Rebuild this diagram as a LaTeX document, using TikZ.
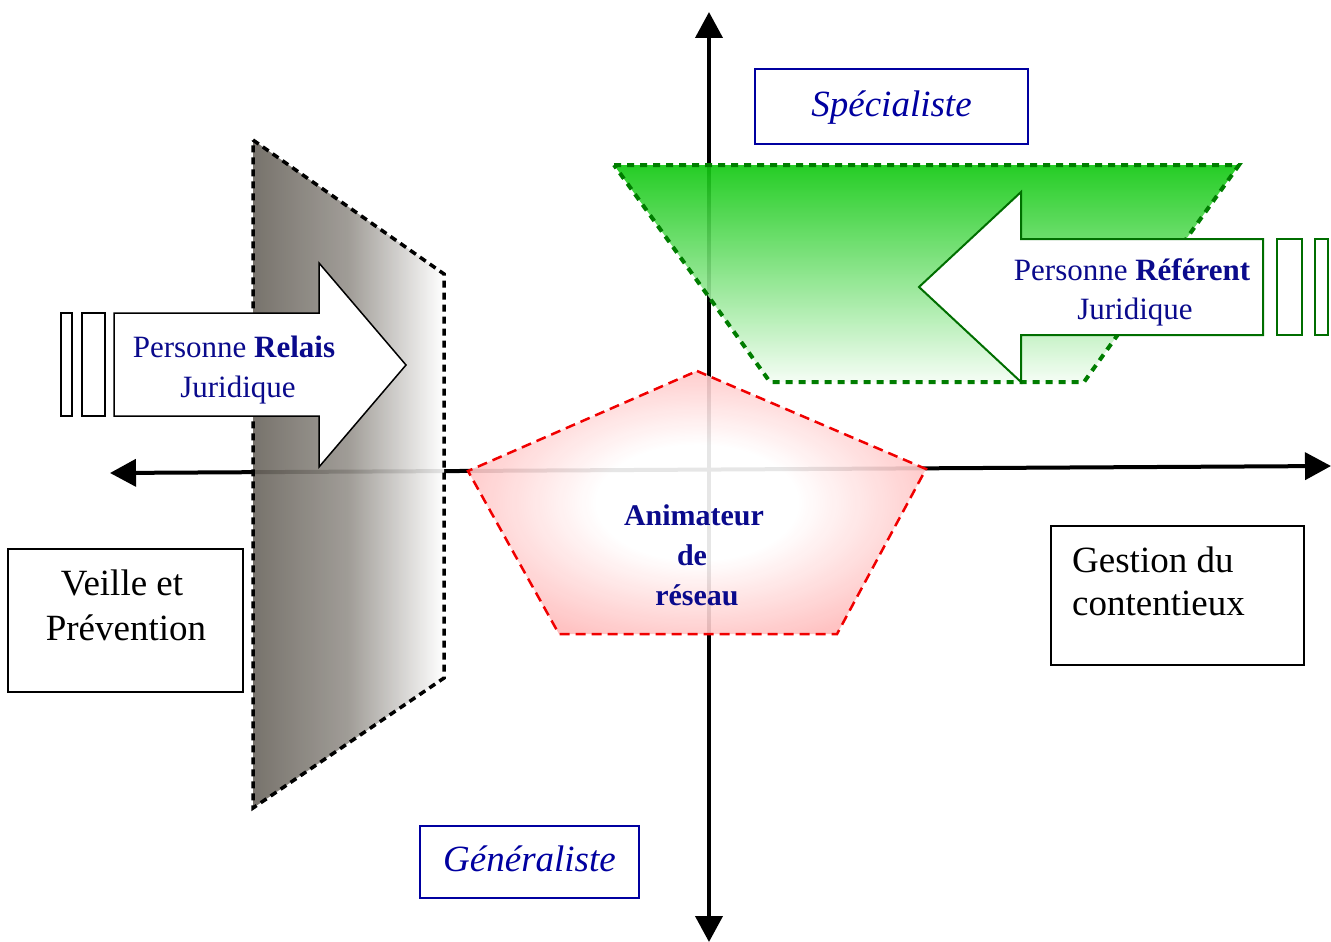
\documentclass[tikz,border=0pt]{standalone}
\usepackage{fontspec}
\setmainfont{Liberation Serif}
\usetikzlibrary{arrows.meta}
\definecolor{txtnavy}{RGB}{10,10,140}
\definecolor{boxnavy}{RGB}{0,0,160}
\definecolor{gdark}{RGB}{0,110,0}
\definecolor{gdash}{RGB}{0,125,0}
\definecolor{gtop}{RGB}{14,200,14}
\definecolor{gbot}{RGB}{244,253,244}
\definecolor{graydark}{RGB}{105,100,92}
\definecolor{graymid}{RGB}{150,146,140}
\definecolor{pinkout}{RGB}{255,125,125}
\definecolor{reddash}{RGB}{240,0,0}
\pgfdeclareradialshading{pentshade}{\pgfpoint{0bp}{0bp}}{color(0bp)=(white); color(11bp)=(white); color(44bp)=(pinkout); color(50bp)=(pinkout)}
\begin{document}
\begin{tikzpicture}[x=1pt,y=-1pt,
  axisline/.style={line width=4pt, {Triangle[length=26pt,width=27pt]}-{Triangle[length=26pt,width=27pt]}},
  grayzone/.style={left color=graydark, right color=white, middle color=graymid, fill opacity=0.9,
    draw=black, line width=3.5pt, dash pattern=on 7pt off 5pt},
  greenzone/.style={top color=gtop, bottom color=gbot, fill opacity=0.9,
    draw=gdash, line width=4pt, dash pattern=on 7pt off 6pt},
  pentzone/.style={shading=pentshade, fill opacity=0.9,
    draw=reddash, line width=2.5pt, dash pattern=on 10pt off 6pt},
  relaisarrow/.style={draw=black, fill=white, line width=1.5pt, line join=miter},
  referarrow/.style={draw=gdark, fill=white, line width=2pt, line join=miter},
  bluebox/.style={draw=boxnavy, line width=2pt, fill=white, inner sep=0pt,
    text=boxnavy, font=\fontsize{37}{44}\selectfont\itshape,
    text height=27pt, text depth=8pt},
  blackbox/.style={draw=black, line width=2pt, fill=white, inner sep=0pt},
  bigtxt/.style={inner sep=0pt, font=\fontsize{37}{44}\selectfont, text=black},
  arrtxt/.style={inner sep=0pt, anchor=base, font=\fontsize{31}{38}\selectfont, text=txtnavy},
  animtxt/.style={inner sep=0pt, anchor=base, font=\fontsize{30}{40}\selectfont\bfseries, text=txtnavy}
]
\useasboundingbox (0,0) rectangle (1331,942);

% axes
\coordinate (vtop) at (709,12);
\coordinate (vbot) at (709,942);
\coordinate (hleft) at (110,473);
\coordinate (hright) at (1331,466);
\draw[axisline] (vbot) -- (vtop);
\draw[axisline] (hleft) -- (hright);

% gray zone (Veille)
\path[grayzone] (253,140) -- (444,274) -- (444,678) -- (253,808) -- cycle;

% green zone (Specialiste)
\path[greenzone] (614,165) -- (1239,165) -- (1084,382) -- (770,382) -- cycle;

% red pentagon (Animateur)
\path[pentzone] (697,371) -- (926,469) -- (837,634) -- (559,634) -- (468,471) -- cycle;

% left striped arrow
\draw[relaisarrow] (114,313) -- (319,313) -- (319,263) -- (406,365) -- (319,467) -- (319,416) -- (114,416) -- cycle;
\draw[relaisarrow] (61,313) rectangle (72,416);
\draw[relaisarrow] (82,313) rectangle (105,416);
\node[arrtxt] (relais1) at (234,357) {Personne \textbf{Relais}};
\node[arrtxt] (relais2) at (238,397) {Juridique};

% right striped arrow
\draw[referarrow] (1263,239) -- (1021,239) -- (1021,192) -- (919,287) -- (1021,382) -- (1021,335) -- (1263,335) -- cycle;
\draw[referarrow] (1277,239) rectangle (1302,335);
\draw[referarrow] (1315,239) rectangle (1328,335);
\node[arrtxt] (refer1) at (1132,280) {Personne \textbf{Référent}};
\node[arrtxt] (refer2) at (1135,319) {Juridique};

% pentagon text
\node[animtxt] (anim1) at (694,525) {Animateur};
\node[animtxt] (anim2) at (692,565) {de};
\node[animtxt] (anim3) at (697,605) {réseau};

% boxes
\node[bluebox, minimum width=273pt, minimum height=74pt] (spec) at (891.5,106.5) {Spécialiste};
\node[bluebox, minimum width=219pt, minimum height=72pt] (gene) at (529.5,862) {Généraliste};
\node[blackbox, minimum width=235pt, minimum height=143pt] (veille) at (125.5,620.5) {};
\node[bigtxt, anchor=base] (veille1) at (122,595) {Veille et};
\node[bigtxt, anchor=base] (veille2) at (126,640) {Prévention};
\node[blackbox, minimum width=253pt, minimum height=139pt] (gestion) at (1177.5,595.5) {};
\node[bigtxt, anchor=base west] (gestion1) at (1072,572) {Gestion du};
\node[bigtxt, anchor=base west] (gestion2) at (1072,615) {contentieux};
\end{tikzpicture}
\end{document}
